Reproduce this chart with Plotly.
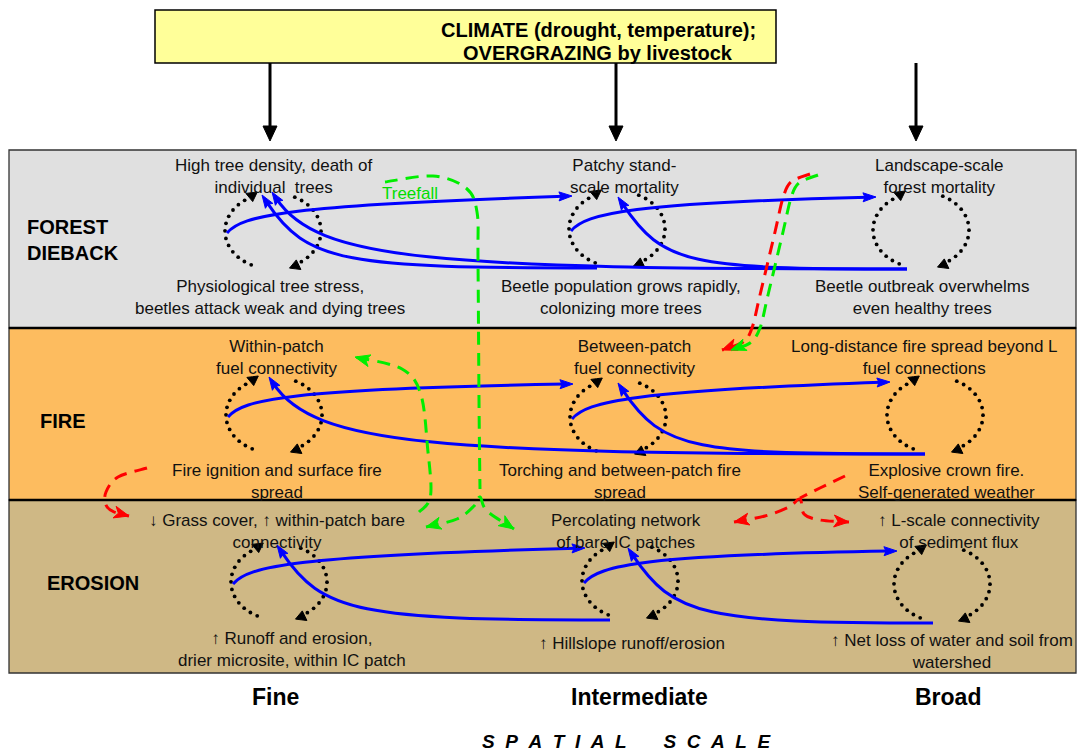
import math
import numpy as np
import plotly.graph_objects as go

W, H = 1084, 754
FONT = "Liberation Sans, Arial, Helvetica, sans-serif"
INK = "#111111"
BLUE = "#0000FF"
GREEN = "#00EE00"
RED = "#FF0000"

# ------------------------------------------------------------------ content
climate_lines = ["CLIMATE (drought, temperature);", "OVERGRAZING by livestock"]
climate_line_y = [30, 53]
climate_text_x = 598
climate_box = [155, 10, 776, 63]
climate_arrow_x = [270, 616, 916]

columns = ["Fine", "Intermediate", "Broad"]
column_label_x = [275, 639, 948]
column_label_y = 697
axis_title_words = ["SPATIAL", "SCALE"]
axis_title_x, axis_title_y = 627, 741

rows = ["FOREST<br>DIEBACK", "FIRE", "EROSION"]
row_label_x = [25, 38, 45]
row_label_y = [240, 421, 583]
band_y0 = [150, 328, 500]
band_y1 = [328, 500, 673]
band_x0, band_x1 = 9, 1076
band_colors = ["#E0E0E0", "#FDBC5F", "#CFB885"]

top_labels = [
    ["High tree density, death of<br>individual\u00a0 trees", "Patchy stand-<br>scale mortality",
     "Landscape-scale<br>forest mortality"],
    ["Within-patch<br>fuel connectivity", "Between-patch<br>fuel connectivity",
     "Long-distance fire spread beyond L<br>fuel connections"],
    ["\u2193 Grass cover, \u2191 within-patch bare<br>connectivity", "Percolating network<br>of bare IC patches",
     "\u2191 L-scale connectivity<br>of sediment flux"],
]
top_label_x = [[273, 624, 939], [276, 634, 924], [277, 626, 959]]
top_label_y = [176, 357, 531]

bottom_labels = [
    ["Physiological tree stress,<br>beetles attack weak and dying trees",
     "Beetle population grows rapidly,<br>colonizing more trees",
     "Beetle outbreak overwhelms<br>even healthy trees"],
    ["Fire ignition and surface fire<br>spread", "Torching and between-patch fire<br>spread",
     "Explosive crown fire.<br>Self-generated weather"],
    ["\u2191 Runoff and erosion,<br>drier microsite, within IC patch", "\u2191 Hillslope runoff/erosion",
     "\u2191 Net loss of water and soil from<br>watershed"],
]
bottom_label_x = [[270, 621, 922], [277, 620, 946], [292, 632, 952]]
bottom_label_y = [[297, 297, 297], [481, 481, 481], [649, 643, 651]]

treefall_label = "Treefall"
treefall_xy = (410, 193)

# feedback-loop centres (row x column)
loop_x = [[273, 617, 921], [274, 618, 935], [279, 630, 942]]
loop_y = [[231, 229, 230], [415, 417, 415], [582, 581, 584]]

# cross-scale links (row, from column, to column)
forward_links = [(0, 0, 1), (0, 1, 2), (1, 0, 1), (1, 1, 2), (2, 0, 1), (2, 1, 2)]
backward_links = [(0, 2, 1), (0, 2, 0), (0, 1, 0), (1, 2, 1), (1, 2, 0), (2, 2, 1), (2, 1, 0)]
back_start_dx = [-14, -14, -20, -10, -10, -9, -20]
back_end_dx = [1, -1, -11, 0, -5, -2, -2]
back_end_dy = [-32, -39, -36, -34, -38, -33, -37]

# cross-process connectors (waypoints), colour, arrow at start / end
connectors = [
    (GREEN, [(385, 182), (433, 176), (466, 188), (477, 212), (478, 260), (479, 400), (480, 489)], False, False),
    (GREEN, [(426, 527), (457, 519), (474, 506), (480, 497), (487, 511), (514, 529)], True, True),
    (GREEN, [(419, 512), (428, 503), (431, 488), (428, 452), (421, 395), (402, 369), (355, 357)], False, True),
    (RED, [(810, 174), (791, 182), (783, 198), (775, 232), (760, 295), (752, 328), (743, 342), (722, 350)], False, True),
    (GREEN, [(818, 175), (799, 183), (791, 198), (783, 232), (768, 295), (760, 328), (750, 343), (731, 350)], False, True),
    (RED, [(147, 468), (118, 477), (106, 492), (106, 505), (114, 512), (129, 516)], False, True),
    (RED, [(845, 476), (820, 488), (800, 498)], False, False),
    (RED, [(734, 522), (765, 516), (789, 507), (800, 499), (804, 514), (820, 520), (849, 522)], True, True),
]

# ------------------------------------------------------------------ helpers
shapes = []
annotations = []
fig = go.Figure()


def add_path(d, color, width, dash=None):
    line = dict(color=color, width=width)
    if dash:
        line["dash"] = dash
    shapes.append(dict(type="path", xref="x", yref="y", path=d, line=line,
                       fillcolor="rgba(0,0,0,0)", layer="above"))


def add_head(tip, direction, length, width, color, notch=0.0):
    dx, dy = direction
    n = math.hypot(dx, dy)
    ux, uy = dx / n, dy / n
    px, py = -uy, ux
    bx, by = tip[0] - ux * length, tip[1] - uy * length
    lx, ly = bx + px * width / 2, by + py * width / 2
    rx, ry = bx - px * width / 2, by - py * width / 2
    mx, my = tip[0] - ux * (length - notch), tip[1] - uy * (length - notch)
    d = f"M{tip[0]:.1f},{tip[1]:.1f} L{lx:.1f},{ly:.1f} L{mx:.1f},{my:.1f} L{rx:.1f},{ry:.1f} Z"
    shapes.append(dict(type="path", xref="x", yref="y", path=d, fillcolor=color,
                       line=dict(color=color, width=1), layer="above"))


def cubic(p0, p1, p2, p3):
    return (f"M{p0[0]:.1f},{p0[1]:.1f} C{p1[0]:.1f},{p1[1]:.1f} "
            f"{p2[0]:.1f},{p2[1]:.1f} {p3[0]:.1f},{p3[1]:.1f}")


def smooth(points):
    pts = [points[0]] + list(points) + [points[-1]]
    d = f"M{points[0][0]:.1f},{points[0][1]:.1f}"
    first_c = None
    last_c = None
    for i in range(1, len(pts) - 2):
        p0, p1, p2, p3 = pts[i - 1], pts[i], pts[i + 1], pts[i + 2]
        c1 = (p1[0] + (p2[0] - p0[0]) / 6, p1[1] + (p2[1] - p0[1]) / 6)
        c2 = (p2[0] - (p3[0] - p1[0]) / 6, p2[1] - (p3[1] - p1[1]) / 6)
        if first_c is None:
            first_c = c1
        last_c = c2
        d += f" C{c1[0]:.1f},{c1[1]:.1f} {c2[0]:.1f},{c2[1]:.1f} {p2[0]:.1f},{p2[1]:.1f}"
    return d, first_c, last_c


def text(x, y, s, size, color=INK, xanchor="center", align="center"):
    annotations.append(dict(x=x, y=y, xref="x", yref="y", text=s, showarrow=False,
                            xanchor=xanchor, yanchor="middle", align=align,
                            font=dict(family=FONT, size=size, color=color)))


# ------------------------------------------------------------------ background
for i in range(3):
    shapes.append(dict(type="rect", xref="x", yref="y", x0=band_x0, x1=band_x1,
                       y0=band_y0[i], y1=band_y1[i], fillcolor=band_colors[i],
                       line=dict(color="#333333", width=1.3), layer="below"))
for yb in band_y0[1:]:
    shapes.append(dict(type="line", xref="x", yref="y", x0=band_x0, x1=band_x1, y0=yb, y1=yb,
                       line=dict(color="#000000", width=2.5), layer="below"))

x0, y0, x1, y1 = climate_box
shapes.append(dict(type="rect", xref="x", yref="y", x0=x0, x1=x1, y0=y0, y1=y1,
                   fillcolor="#FFFF99", line=dict(color="#000000", width=1.5), layer="below"))
for yy, s in zip(climate_line_y, climate_lines):
    text(climate_text_x, yy, f"<b>{s}</b>", 20, color="#000000")
for ax in climate_arrow_x:
    shapes.append(dict(type="line", xref="x", yref="y", x0=ax, x1=ax, y0=y1, y1=128,
                       line=dict(color="#000000", width=3), layer="above"))
    add_head((ax, 141), (0, 1), 15, 14, "#000000")

# ------------------------------------------------------------------ loops
RX, RY = 48, 38
SPACING = 7.6
dot_x, dot_y = [], []
for r in range(3):
    for c in range(3):
        cx, cy = loop_x[r][c], loop_y[r][c]
        for a0, a1 in ((207, 333), (27, 153)):
            th = np.radians(np.linspace(a0, a1, 400))
            px = cx + RX * np.sin(th)
            py = cy - RY * np.cos(th)
            seg = np.hypot(np.diff(px), np.diff(py))
            cum = np.concatenate([[0], np.cumsum(seg)])
            targets = np.arange(0, cum[-1] - 6, SPACING)
            dot_x += list(np.interp(targets, cum, px))
            dot_y += list(np.interp(targets, cum, py))
        t1 = math.radians(333)
        ex, ey = cx + RX * math.sin(t1), cy - RY * math.cos(t1)
        add_head((ex + 1.5, ey + 4.5), (0.12, 1), 9, 11.5, "#000000")
        t2 = math.radians(153)
        ex, ey = cx + RX * math.sin(t2), cy - RY * math.cos(t2)
        add_head((ex + 1.5, ey - 5), (0.12, -1), 9, 11.5, "#000000")

fig.add_trace(go.Scatter(x=dot_x, y=dot_y, mode="markers", hoverinfo="skip",
                         marker=dict(size=3.8, color="#000000"), showlegend=False))

# ------------------------------------------------------------------ blue links
for (r, a, b) in forward_links:
    s = (loop_x[r][a] - 46, loop_y[r][a] + 2)
    e = (loop_x[r][b] - 45, loop_y[r][b] - 33)
    p1 = (s[0] + 15, s[1] - 18)
    p2 = (s[0] + 62, s[1] - 28)
    dx, dy = e[0] - p2[0], e[1] - p2[1]
    n = math.hypot(dx, dy)
    e_line = (e[0] - dx / n * 8, e[1] - dy / n * 8)
    add_path(cubic(s, p1, p2, e_line), BLUE, 3)
    add_head(e, (dx, dy), 13, 9, BLUE, notch=2)

for k, (r, a, b) in enumerate(backward_links):
    s = (loop_x[r][a] + back_start_dx[k], loop_y[r][a] + 39)
    e = (loop_x[r][b] + back_end_dx[k], loop_y[r][b] + back_end_dy[k])
    L = s[0] - e[0]
    p1 = (e[0] + 0.25 * L, s[1])
    p2 = (e[0] + 45, e[1] + 68)
    dx, dy = e[0] - p2[0], e[1] - p2[1]
    n = math.hypot(dx, dy)
    e_line = (e[0] - dx / n * 8, e[1] - dy / n * 8)
    add_path(cubic(s, p1, p2, e_line), BLUE, 3)
    add_head(e, (dx, dy), 13, 9, BLUE, notch=2)

# ------------------------------------------------------------------ dashed connectors
for color, pts, head_start, head_end in connectors:
    d, c_first, c_last = smooth(pts)
    add_path(d, color, 3, dash="13px,8px")
    if head_end:
        tip = pts[-1]
        add_head(tip, (tip[0] - c_last[0], tip[1] - c_last[1]), 15, 12, color, notch=4)
    if head_start:
        tip = pts[0]
        add_head(tip, (tip[0] - c_first[0], tip[1] - c_first[1]), 15, 12, color, notch=4)

# ------------------------------------------------------------------ text
for r in range(3):
    text(row_label_x[r], row_label_y[r], f"<b>{rows[r]}</b>", 20, color="#000000",
         xanchor="left", align="left")
    for c in range(3):
        text(top_label_x[r][c], top_label_y[r], top_labels[r][c], 17)
        text(bottom_label_x[r][c], bottom_label_y[r][c], bottom_labels[r][c], 17)

text(treefall_xy[0], treefall_xy[1], treefall_label, 17, color="#00DD00")

for x, s in zip(column_label_x, columns):
    text(x, column_label_y, f"<b>{s}</b>", 23, color="#000000")

nb = "\u00a0"
title = (nb * 7).join((nb * 2).join(list(w)) for w in axis_title_words)
text(axis_title_x, axis_title_y, f"<b><i>{title}</i></b>", 19, color="#000000")

# ------------------------------------------------------------------ layout
fig.update_layout(
    width=W, height=H,
    margin=dict(l=0, r=0, t=0, b=0, pad=0),
    paper_bgcolor="white", plot_bgcolor="white",
    xaxis=dict(range=[0, W], visible=False, fixedrange=True),
    yaxis=dict(range=[H, 0], visible=False, fixedrange=True),
    shapes=shapes, annotations=annotations, showlegend=False,
)
fig.write_html("out.html", config=dict(displayModeBar=False),
               post_script="document.body.style.margin='0';document.body.style.overflow='hidden';")
